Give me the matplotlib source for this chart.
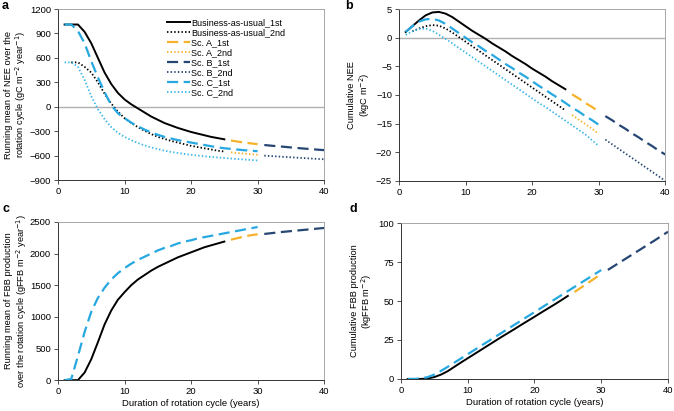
import numpy as np
import matplotlib
matplotlib.use('Agg')
import matplotlib.pyplot as plt

plt.rcParams['font.family'] = ['Liberation Sans', 'DejaVu Sans']
plt.rcParams['axes.unicode_minus'] = True

# colours
BLACK = '#000000'
YELLOW = '#F6B22A'
NAVY = '#264673'
BLUE = '#27A8E0'
BLUE2 = '#3BB6E8'

# years of each segment
yr_bau = list(range(1, 26))
yr_bau2 = list(range(2, 26))
yr_a = list(range(26, 31))
yr_b = list(range(31, 41))
yr_c = list(range(1, 31))

# a: running mean of NEE (gC m-2 yr-1)
nee_bau1 = [1010, 1010, 1010, 920, 780, 600, 420, 280, 170, 90, 30, -20, -70, -120, -160,
            -200, -230, -260, -285, -310, -330, -350, -370, -385, -400]
nee_bau2 = [545, 545, 490, 420, 300, 160, 40, -60, -140, -200, -250, -295, -335, -370,
            -395, -420, -440, -460, -480, -495, -510, -525, -540, -550]
nee_a1 = [-415, -428, -440, -450, -460]
nee_a2 = [-560, -568, -576, -584, -590]
nee_b1 = [-470, -478, -485, -492, -500, -507, -514, -520, -527, -533]
nee_b2 = [-600, -606, -611, -616, -621, -626, -631, -636, -641, -645]
nee_c1 = [1010, 1010, 930, 780, 560, 360, 180, 20, -80, -140, -195, -240, -280, -315,
          -345, -370, -390, -410, -425, -440, -455, -470, -485, -498, -510, -518,
          -526, -534, -540, -546]
nee_c2 = [545, 545, 490, 330, 130, -30, -150, -250, -320, -370, -410, -445, -475, -500,
          -520, -540, -555, -568, -580, -590, -600, -608, -616, -623, -630, -636,
          -642, -648, -654, -660]

# b: cumulative NEE (kgC m-2)
cum_bau1 = [1.0, 2.0, 3.0, 3.9, 4.4, 4.5, 4.2, 3.6, 2.8, 2.0, 1.2, 0.5, -0.2, -1.0, -1.7,
            -2.4, -3.2, -3.9, -4.6, -5.4, -6.1, -6.8, -7.6, -8.3, -9.0]
cum_bau2 = [1.1, 1.6, 2.0, 2.2, 2.1, 1.6, 0.9, 0.1, -0.7, -1.5, -2.3, -3.1, -3.9, -4.7,
            -5.5, -6.3, -7.1, -7.9, -8.7, -9.5, -10.3, -11.1, -11.9, -12.7]
cum_a1 = [-9.9, -10.6, -11.4, -12.1, -12.9]
cum_a2 = [-13.5, -14.3, -15.1, -15.9, -16.8]
cum_b1 = [-13.7, -14.4, -15.2, -15.9, -16.7, -17.4, -18.2, -18.9, -19.7, -20.4]
cum_b2 = [-17.8, -18.6, -19.4, -20.2, -21.0, -21.8, -22.6, -23.4, -24.2, -25.0]
cum_c1 = [1.0, 2.0, 2.8, 3.2, 3.3, 3.0, 2.4, 1.6, 0.8, 0.0, -0.8, -1.5, -2.3, -3.0, -3.8,
          -4.6, -5.3, -6.1, -6.8, -7.6, -8.4, -9.1, -9.9, -10.6, -11.4, -12.2, -12.9,
          -13.7, -14.4, -15.2]
cum_c2 = [0.5, 1.1, 1.5, 1.6, 1.2, 0.5, -0.2, -1.0, -1.8, -2.6, -3.4, -4.2, -5.0, -5.8,
          -6.6, -7.4, -8.2, -9.0, -9.8, -10.6, -11.4, -12.1, -12.9, -13.7, -14.5,
          -15.3, -16.1, -16.9, -17.9, -18.9]

# c: running mean of FBB production (gFFB m-2 yr-1)
fbb_bau1 = [0, 0, 0, 120, 330, 600, 880, 1100, 1270, 1390, 1500, 1590, 1660, 1730, 1790,
            1840, 1890, 1940, 1980, 2020, 2060, 2100, 2130, 2160, 2190]
fbb_a1 = [2220, 2245, 2270, 2290, 2305]
fbb_b1 = [2310, 2322, 2334, 2345, 2355, 2365, 2375, 2385, 2395, 2405]
fbb_c1 = [0, 20, 380, 760, 1080, 1300, 1460, 1590, 1690, 1770, 1840, 1900, 1950, 2000,
          2050, 2090, 2120, 2160, 2190, 2210, 2240, 2260, 2280, 2300, 2320, 2340, 2360,
          2380, 2400, 2420]

# d: cumulative FBB production (kgFFB m-2)
cfbb_bau1 = [0, 0, 0, 0.3, 1.2, 2.8, 5.0, 7.8, 10.6, 13.3, 16.0, 18.7, 21.4, 24.1, 26.8,
             29.4, 32.0, 34.7, 37.3, 39.9, 42.6, 45.2, 47.8, 50.5, 53.3]
cfbb_a1 = [55.8, 58.7, 61.6, 64.5, 67.4]
cfbb_b1 = [70.0, 72.7, 75.4, 78.1, 80.8, 83.5, 86.2, 88.9, 91.7, 94.5]
cfbb_c1 = [0, 0, 0.3, 1.2, 2.8, 5.2, 7.8, 10.5, 13.2, 15.9, 18.6, 21.3, 24.0, 26.7, 29.4,
           32.1, 34.8, 37.5, 40.2, 42.9, 45.6, 48.3, 51.0, 53.7, 56.4, 59.1, 61.8,
           64.5, 67.2, 69.9]

labels = ['Business-as-usual_1st', 'Business-as-usual_2nd', 'Sc. A_1st', 'Sc. A_2nd',
          'Sc. B_1st', 'Sc. B_2nd', 'Sc. C_1st', 'Sc. C_2nd']

DASH = (0, (5, 2.5))
DOT = (0, (0.8, 1.2))
FS = 6.5
LFS = 6.7


def style_axes(ax, xlabel=False):
    ax.set_xlim(0, 40)
    ax.set_xticks([0, 10, 20, 30, 40])
    for s in ['top', 'right']:
        ax.spines[s].set_color('#9a9a9a')
        ax.spines[s].set_linewidth(0.6)
    for s in ['left', 'bottom']:
        ax.spines[s].set_color('#333333')
        ax.spines[s].set_linewidth(0.7)
    ax.tick_params(direction='out', length=3, width=0.6, labelsize=FS + 0.3, color='#333333', pad=2)
    if xlabel:
        ax.set_xlabel('Duration of rotation cycle (years)', fontsize=FS + 0.3, labelpad=2)


fig = plt.figure(figsize=(6.74, 4.11), dpi=100)
ax_a = fig.add_axes([0.086, 0.562, 0.395, 0.416])
ax_b = fig.add_axes([0.592, 0.560, 0.395, 0.418])
ax_c = fig.add_axes([0.086, 0.075, 0.395, 0.385])
ax_d = fig.add_axes([0.595, 0.078, 0.396, 0.379])

# panel a
ax_a.axhline(0, color='#b0b0b0', lw=1.0, zorder=0)
h1, = ax_a.plot(yr_bau, nee_bau1, color=BLACK, lw=1.4)
h2, = ax_a.plot(yr_bau2, nee_bau2, color=BLACK, lw=1.3, ls=DOT)
h3, = ax_a.plot(yr_a, nee_a1, color=YELLOW, lw=1.6, ls=DASH)
h4, = ax_a.plot(yr_a, nee_a2, color=YELLOW, lw=1.3, ls=DOT)
h5, = ax_a.plot(yr_b, nee_b1, color=NAVY, lw=1.6, ls=DASH)
h6, = ax_a.plot(yr_b, nee_b2, color=NAVY, lw=1.3, ls=DOT)
h7, = ax_a.plot(yr_c, nee_c1, color=BLUE, lw=1.6, ls=DASH)
h8, = ax_a.plot(yr_c, nee_c2, color=BLUE2, lw=1.3, ls=DOT)
ax_a.set_ylim(-900, 1200)
ax_a.set_yticks(range(-900, 1201, 300))
ax_a.set_ylabel('Running mean of NEE over the\nrotation cycle (gC m$^{-2}$ year$^{-1}$)',
                fontsize=LFS, labelpad=1, linespacing=1.1)
style_axes(ax_a)
ax_a.legend([h1, h2, h3, h4, h5, h6, h7, h8], labels, loc='upper left',
            bbox_to_anchor=(0.395, 0.965), frameon=False, fontsize=FS,
            handlelength=2.6, handletextpad=0.1, labelspacing=0.1, borderaxespad=0)

# panel b
ax_b.axhline(0, color='#b0b0b0', lw=1.0, zorder=0)
ax_b.plot(yr_bau, cum_bau1, color=BLACK, lw=1.4)
ax_b.plot(yr_bau2, cum_bau2, color=BLACK, lw=1.3, ls=DOT)
ax_b.plot(yr_a, cum_a1, color=YELLOW, lw=1.6, ls=DASH)
ax_b.plot(yr_a, cum_a2, color=YELLOW, lw=1.3, ls=DOT)
ax_b.plot(yr_b, cum_b1, color=NAVY, lw=1.6, ls=DASH)
ax_b.plot(yr_b, cum_b2, color=NAVY, lw=1.3, ls=DOT)
ax_b.plot(yr_c, cum_c1, color=BLUE, lw=1.6, ls=DASH)
ax_b.plot(yr_c, cum_c2, color=BLUE2, lw=1.3, ls=DOT)
ax_b.set_ylim(-25, 5)
ax_b.set_yticks(range(-25, 6, 5))
ax_b.set_ylabel('Cumulative NEE\n(kgC m$^{-2}$)', fontsize=LFS, labelpad=3, linespacing=1.1)
style_axes(ax_b)

# panel c
ax_c.plot(yr_bau, fbb_bau1, color=BLACK, lw=1.4)
ax_c.plot(yr_a, fbb_a1, color=YELLOW, lw=1.6, ls=DASH)
ax_c.plot(yr_b, fbb_b1, color=NAVY, lw=1.6, ls=DASH)
ax_c.plot(yr_c, fbb_c1, color=BLUE, lw=1.6, ls=DASH)
ax_c.set_ylim(0, 2500)
ax_c.set_yticks(range(0, 2501, 500))
ax_c.set_ylabel('Running mean of FBB production\nover the rotation cycle (gFFB m$^{-2}$ year$^{-1}$)',
                fontsize=LFS, labelpad=1, linespacing=1.1)
style_axes(ax_c, xlabel=True)

# panel d
ax_d.plot(yr_bau, cfbb_bau1, color=BLACK, lw=1.4)
ax_d.plot(yr_a, cfbb_a1, color=YELLOW, lw=1.6, ls=DASH)
ax_d.plot(yr_b, cfbb_b1, color=NAVY, lw=1.6, ls=DASH)
ax_d.plot(yr_c, cfbb_c1, color=BLUE, lw=1.6, ls=DASH)
ax_d.set_ylim(0, 100)
ax_d.set_yticks(range(0, 101, 25))
ax_d.set_ylabel('Cumulative FBB production\n(kgFFB m$^{-2}$)', fontsize=LFS, labelpad=3, linespacing=1.1)
style_axes(ax_d, xlabel=True)

for letter, x, y in [('a', 0.002, 0.999), ('b', 0.512, 0.999), ('c', 0.004, 0.507), ('d', 0.518, 0.505)]:
    fig.text(x, y, letter, fontsize=9, fontweight='bold', va='top', ha='left')

fig.savefig('out.png', dpi=100)
